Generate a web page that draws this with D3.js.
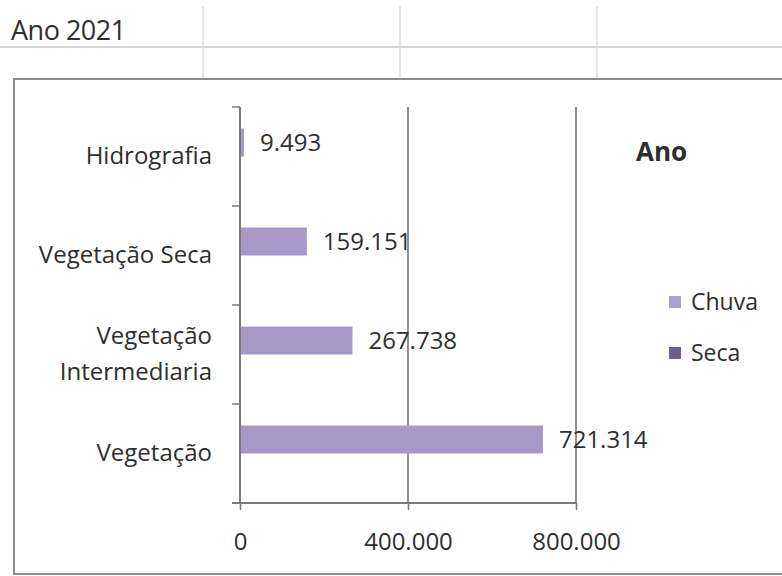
<!DOCTYPE html>
<html>
<head>
<meta charset="utf-8">
<script src="https://cdn.jsdelivr.net/npm/d3@7"></script>
<style>
  body { margin: 0; background: #fff; }
  text { font-family: "Open Sans", sans-serif; fill: #2e2e2e; }
</style>
</head>
<body>
<div id="chart"></div>
<script>
// categories top to bottom, as shown in the chart
const categories = ["Hidrografia", "Vegetação Seca", "Vegetação Intermediaria", "Vegetação"];
// series names (legend)
const seriesNames = ["Chuva", "Seca"];
// values per series, same order as categories
const chuvaValues = [9493, 159151, 267738, 721314];
const secaValues = [null, null, null, null];
// x axis tick values
const xTicks = [0, 400000, 800000];

const W = 782, H = 576;
const plot = {left: 240, right: 576, top: 107, bottom: 503};
const colors = {Chuva: "#a898c8", Seca: "#6e5f90"};
const legendColors = {Chuva: "#a9a2c8", Seca: "#6e5f90"};
const fontSize = 24;

// brazilian number format: 721.314
const fmt = d3.formatLocale({decimal: ",", thousands: ".", grouping: [3], currency: ["", ""]}).format(",d");

const svg = d3.select("#chart").append("svg")
    .attr("width", W)
    .attr("height", H);

//Spreadsheet grid behind the chart
const sheet = svg.append("g");
sheet.append("line")
    .attr("x1", 0).attr("x2", W).attr("y1", 47).attr("y2", 47)
    .attr("stroke", "#d6d6d6").attr("stroke-width", 2);
[203, 400, 597].forEach(x => {
    sheet.append("line")
        .attr("x1", x).attr("x2", x).attr("y1", 6).attr("y2", 79)
        .attr("stroke", "#dcdcdc").attr("stroke-width", 1.5);
});
sheet.append("text")
    .attr("x", 11).attr("y", 40)
    .style("font-size", "27px")
    .style("letter-spacing", "-0.5px")
    .text("Ano 2021");

//Chart frame
svg.append("rect")
    .attr("x", 14).attr("y", 79)
    .attr("width", W + 10).attr("height", 574 - 79)
    .attr("fill", "#fff")
    .attr("stroke", "#8c8c8c").attr("stroke-width", 2);

//Scales
const y = d3.scaleBand()
    .domain(categories)
    .range([plot.top, plot.bottom]);

const ySub = d3.scaleBand()
    .domain(seriesNames)
    .range([0, y.bandwidth()])
    .paddingOuter(0.77);

const x = d3.scaleLinear()
    .domain([0, 800000])
    .range([plot.left, plot.right]);

//Vertical gridlines
svg.append("g")
    .selectAll("line")
    .data(xTicks.filter(d => d > 0))
    .join("line")
    .attr("x1", d => x(d)).attr("x2", d => x(d))
    .attr("y1", plot.top).attr("y2", plot.bottom)
    .attr("stroke", "#6b6b6b").attr("stroke-width", 1.5);

//Bars
const rows = [];
categories.forEach((c, i) => {
    rows.push({cat: c, series: "Chuva", value: chuvaValues[i]});
    rows.push({cat: c, series: "Seca", value: secaValues[i]});
});
const bars = rows.filter(d => d.value != null);

svg.append("g")
    .selectAll("rect")
    .data(bars)
    .join("rect")
    .attr("x", x(0))
    .attr("y", d => y(d.cat) + ySub(d.series))
    .attr("width", d => x(d.value) - x(0))
    .attr("height", ySub.bandwidth())
    .attr("fill", d => colors[d.series]);

//Data labels
svg.append("g")
    .selectAll("text")
    .data(bars)
    .join("text")
    .attr("x", d => x(d.value) + 16)
    .attr("y", d => y(d.cat) + ySub(d.series) + ySub.bandwidth() / 2)
    .attr("dy", "0.36em")
    .style("font-size", fontSize + "px")
    .text(d => fmt(d.value));

//Y axis line and tick marks at category boundaries
const yAxis = svg.append("g");
yAxis.append("line")
    .attr("x1", plot.left).attr("x2", plot.left)
    .attr("y1", plot.top).attr("y2", plot.bottom)
    .attr("stroke", "#7a7a7a").attr("stroke-width", 2);
yAxis.selectAll(".bound")
    .data(d3.range(categories.length + 1))
    .join("line")
    .attr("class", "bound")
    .attr("x1", plot.left - 8).attr("x2", plot.left)
    .attr("y1", i => plot.top + i * y.step())
    .attr("y2", i => plot.top + i * y.step())
    .attr("stroke", "#7a7a7a").attr("stroke-width", 1.5);

//Category labels
const yLabels = svg.append("g")
    .attr("transform", "translate(" + plot.left + ",0)")
    .call(d3.axisLeft(y).tickSize(0).tickPadding(28));
yLabels.select(".domain").remove();
yLabels.selectAll("text")
    .style("font-size", fontSize + "px")
    .style("font-family", "\"Open Sans\", sans-serif")
    .attr("fill", "#2e2e2e")
    .each(function (d) {
        // wrap long labels on two lines
        const t = d3.select(this);
        const words = d.split(" ");
        if (this.getComputedTextLength() > 195 && words.length > 1) {
            t.text(null);
            const lh = 36;
            const xPos = t.attr("x");
            t.append("tspan").attr("x", xPos).attr("dy", (0.32 - 0.5 * lh / fontSize) + "em")
                .text(words.slice(0, -1).join(" "));
            t.append("tspan").attr("x", xPos).attr("dy", lh + "px")
                .text(words[words.length - 1]);
            t.attr("dy", null);
        }
    });

//X axis
const xAxis = svg.append("g")
    .attr("transform", "translate(0," + plot.bottom + ")")
    .call(d3.axisBottom(x).tickValues(xTicks).tickSize(7).tickSizeOuter(0).tickPadding(23).tickFormat(fmt));
xAxis.select(".domain").remove();
xAxis.append("line")
    .attr("x1", plot.left - 8).attr("x2", plot.right)
    .attr("stroke", "#7a7a7a").attr("stroke-width", 2);
xAxis.selectAll(".tick line")
    .attr("stroke", "#7a7a7a").attr("stroke-width", 1.5);
xAxis.selectAll("text")
    .style("font-size", fontSize + "px")
    .style("font-family", "\"Open Sans\", sans-serif")
    .attr("fill", "#2e2e2e");

//Legend
const legend = svg.append("g");
legend.append("text")
    .attr("x", 636).attr("y", 161)
    .style("font-size", "26px")
    .style("font-weight", "bold")
    .text("Ano");

const legendY = d3.scalePoint()
    .domain(seriesNames)
    .range([302, 353]);

const items = legend.selectAll(".item")
    .data(seriesNames)
    .join("g")
    .attr("class", "item")
    .attr("transform", d => "translate(669," + legendY(d) + ")");
items.append("rect")
    .attr("x", 0).attr("y", -6)
    .attr("width", 12).attr("height", 12)
    .attr("fill", d => legendColors[d]);
items.append("text")
    .attr("x", 22)
    .attr("dy", "0.36em")
    .style("font-size", "23px")
    .text(d => d);
</script>
</body>
</html>
